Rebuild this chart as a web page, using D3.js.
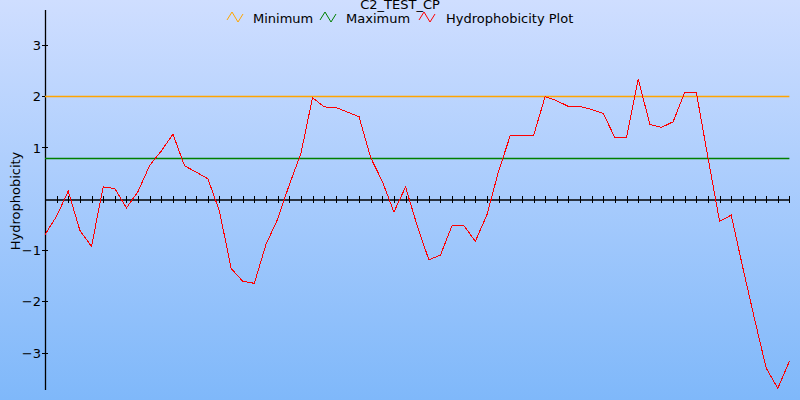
<!DOCTYPE html>
<html>
<head>
<meta charset="utf-8">
<script src="https://cdn.jsdelivr.net/npm/d3@7"></script>
<style>
html,body{margin:0;padding:0;overflow:hidden;}
svg{display:block;}
text{font-family:"DejaVu Sans",Verdana,sans-serif;}
</style>
</head>
<body>
<svg id="chart" width="800" height="400"></svg>
<script>
const title = "C2_TEST_CP";
const yLabel = "Hydrophobicity";
const seriesNames = ["Minimum", "Maximum", "Hydrophobicity Plot"];
const seriesColors = ["#ffa500", "#008000", "#ff0000"];
const minimumValue = 2.0;
const maximumValue = 0.8;
const yTicks = [-3, -2, -1, 1, 2, 3];
const hydro = [
  -0.70, -0.34, 0.15, -0.62, -0.93, 0.23, 0.20, -0.18, 0.14, 0.65,
  0.93, 1.26, 0.64, 0.52, 0.39, -0.24, -1.36, -1.61, -1.65, -0.89,
  -0.40, 0.27, 0.88, 1.97, 1.79, 1.78, 1.69, 1.60, 0.80, 0.34,
  -0.26, 0.23, -0.53, -1.19, -1.10, -0.52, -0.52, -0.83, -0.31, 0.54,
  1.23, 1.23, 1.23, 1.99, 1.91, 1.80, 1.80, 1.74, 1.66, 1.19,
  1.19, 2.34, 1.45, 1.39, 1.50, 2.07, 2.07, 0.80, -0.44, -0.32,
  -1.35, -2.34, -3.30, -3.70, -3.17
];

const svg = d3.select("#chart");
const W = 800, H = 400;
const snap = v => Math.round(v) + 0.5;

// background gradient
const defs = svg.append("defs");
const grad = defs.append("linearGradient").attr("id", "bg")
  .attr("x1", 0).attr("y1", 0).attr("x2", 0).attr("y2", 1);
grad.append("stop").attr("offset", "0%").attr("stop-color", "#cfdeff");
grad.append("stop").attr("offset", "100%").attr("stop-color", "#7fb8fa");
svg.append("rect").attr("width", W).attr("height", H).attr("fill", "url(#bg)");

const x = d3.scaleLinear().domain([0, hydro.length - 1]).range([45, 789.4]);
const y = d3.scaleLinear().domain([-3.73, 3.68]).range([390, 10]);

// y axis
const yAxis = d3.axisLeft(y).tickValues(yTicks).tickSize(3).tickPadding(1)
  .tickFormat(d3.format("d"));
const gy = svg.append("g").attr("transform", `translate(${x(0)},0)`).call(yAxis);
gy.select(".domain").remove();
gy.selectAll(".tick line").attr("x2", 3).attr("x1", -3).attr("stroke", "#000")
  .attr("shape-rendering", "crispEdges");
gy.selectAll(".tick text").attr("font-size", 13).attr("font-family", "DejaVu Sans, Verdana, sans-serif")
  .attr("fill", "#000").attr("dy", "0.36em");
svg.append("line").attr("x1", snap(x(0))).attr("x2", snap(x(0))).attr("y1", 10).attr("y2", 390)
  .attr("stroke", "#000").attr("stroke-width", 1.3);

// threshold lines
svg.append("line").attr("x1", x(0)).attr("x2", x(hydro.length - 1))
  .attr("y1", snap(y(minimumValue))).attr("y2", snap(y(minimumValue)))
  .attr("stroke", seriesColors[0]).attr("stroke-width", 1.3);
svg.append("line").attr("x1", x(0)).attr("x2", x(hydro.length - 1))
  .attr("y1", snap(y(maximumValue))).attr("y2", snap(y(maximumValue)))
  .attr("stroke", seriesColors[1]).attr("stroke-width", 1.3);

// zero axis with ticks
const xAxis = d3.axisBottom(x).tickValues(d3.range(1, hydro.length)).tickSize(0).tickFormat("");
const gx = svg.append("g").attr("transform", `translate(0,${snap(y(0))})`).call(xAxis);
gx.select(".domain").attr("stroke", "#000").attr("stroke-width", 1.3);
gx.selectAll(".tick line").attr("y1", -3.5).attr("y2", 3.5).attr("stroke", "#000")
  .attr("stroke-width", 1).attr("shape-rendering", "crispEdges");

// data line
const line = d3.line().x((d, i) => x(i)).y(d => y(d));
svg.append("path").datum(hydro).attr("d", line)
  .attr("fill", "none").attr("stroke", seriesColors[2]).attr("stroke-width", 1)
  .attr("shape-rendering", "crispEdges");

// title
svg.append("text").attr("x", 400).attr("y", 8.5).attr("text-anchor", "middle")
  .attr("font-size", 13).attr("fill", "#000").text(title);

// legend
const legendItems = [
  {icon: 227, text: 253},
  {icon: 320, text: 346},
  {icon: 419, text: 446}
];
legendItems.forEach((it, i) => {
  const g = svg.append("g").attr("transform", `translate(${it.icon},12)`);
  g.append("path").attr("d", "M0,8 L5,0 L11,10 L16,2")
    .attr("fill", "none").attr("stroke", seriesColors[i]).attr("stroke-width", 1);
  svg.append("text").attr("x", it.text).attr("y", 22.5).attr("font-size", 13)
    .attr("fill", "#000").text(seriesNames[i]);
});

// y label
svg.append("text").attr("transform", "translate(20,201) rotate(-90)")
  .attr("text-anchor", "middle").attr("font-size", 13).attr("fill", "#000").text(yLabel);
</script>
</body>
</html>
